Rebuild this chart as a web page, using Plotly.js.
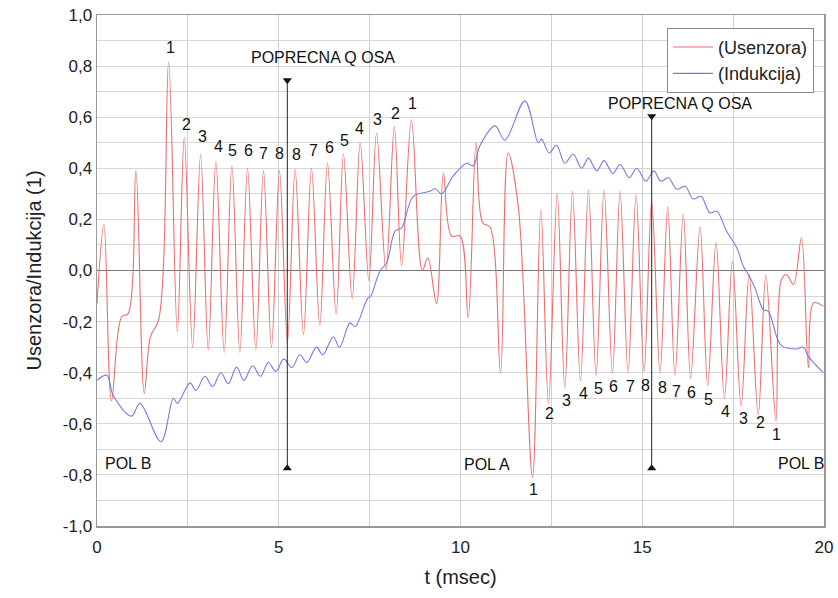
<!DOCTYPE html>
<html>
<head>
<meta charset="utf-8">
<script src="https://cdn.plot.ly/plotly-3.0.1.min.js"></script>
<style>html,body{margin:0;padding:0;background:#fff;}#chart{width:838px;height:598px;}</style>
</head>
<body>
<div id="chart"></div>
<script>
// ---- Usenzora (red) ----
const usenX = [0, 0.19, 0.40, 0.68, 0.85, 1.07, 1.30, 1.47, 1.70, 1.97, 2.21, 2.40, 2.63, 2.85, 3.06, 3.27, 3.50, 3.71, 3.93, 4.14, 4.37, 4.58, 4.80, 5.02, 5.24, 5.45, 5.68, 5.90, 6.13, 6.34, 6.58, 6.78, 7.02, 7.24, 7.48, 7.69, 7.95, 8.18, 8.38, 8.65, 8.95, 9.10, 9.34, 9.53, 9.75, 9.99, 10.21, 10.43, 10.61, 10.81, 11.10, 11.31, 11.59, 11.98, 12.21, 12.42, 12.66, 12.87, 13.08, 13.30, 13.52, 13.73, 13.95, 14.18, 14.39, 14.61, 14.83, 15.05, 15.26, 15.49, 15.70, 15.90, 16.13, 16.33, 16.59, 16.80, 17.03, 17.26, 17.48, 17.72, 17.94, 18.19, 18.40, 18.68, 18.83, 18.97, 19.16, 19.38, 19.57, 19.71, 19.98];
const usenY = [-0.13, 0.18, -0.51, -0.18, -0.17, 0.39, -0.48, -0.26, -0.19, 0.815, -0.24, 0.52, -0.30, 0.455, -0.31, 0.425, -0.32, 0.41, -0.32, 0.40, -0.31, 0.39, -0.30, 0.39, -0.28, 0.395, -0.25, 0.40, -0.215, 0.42, -0.17, 0.455, -0.11, 0.50, -0.04, 0.537, 0.0, 0.563, 0.02, 0.59, 0.0, 0.05, -0.13, 0.38, 0.135, 0.135, -0.185, 0.50, 0.187, 0.17, -0.40, 0.46, 0.25, -0.81, 0.24, -0.52, 0.30, -0.46, 0.31, -0.43, 0.314, -0.41, 0.314, -0.40, 0.31, -0.40, 0.295, -0.395, 0.27, -0.40, 0.25, -0.41, 0.22, -0.42, 0.17, -0.45, 0.11, -0.50, 0.037, -0.53, -0.016, -0.565, -0.02, -0.59, -0.035, -0.016, -0.055, 0.128, -0.38, -0.127, -0.14];

// ---- Indukcija (blue) ----
const indX = [0, 0.27, 0.45, 0.95, 1.18, 1.76, 2.10, 2.21, 2.56, 2.72, 2.97, 3.18, 3.41, 3.61, 3.84, 4.04, 4.28, 4.50, 4.71, 4.92, 5.14, 5.36, 5.58, 5.77, 6.04, 6.21, 6.50, 6.67, 6.96, 7.10, 7.44, 7.53, 7.79, 7.97, 8.20, 8.38, 8.70, 9.16, 9.30, 9.48, 9.80, 10.17, 10.35, 10.54, 10.95, 11.22, 11.77, 12.14, 12.23, 12.44, 12.64, 12.87, 13.10, 13.33, 13.52, 13.75, 13.95, 14.19, 14.39, 14.64, 14.85, 15.10, 15.32, 15.51, 15.72, 15.95, 16.18, 16.40, 16.62, 16.86, 17.05, 17.32, 17.60, 17.78, 17.92, 18.10, 18.33, 18.47, 18.70, 18.83, 19.25, 19.43, 19.57, 19.98];
const indY = [-0.43, -0.41, -0.49, -0.57, -0.52, -0.67, -0.50, -0.52, -0.44, -0.47, -0.414, -0.454, -0.40, -0.443, -0.378, -0.43, -0.373, -0.414, -0.36, -0.395, -0.346, -0.38, -0.33, -0.36, -0.30, -0.33, -0.26, -0.30, -0.205, -0.22, -0.11, -0.10, 0.0, 0.03, 0.154, 0.167, 0.29, 0.31, 0.32, 0.30, 0.37, 0.42, 0.41, 0.49, 0.566, 0.51, 0.664, 0.50, 0.514, 0.46, 0.49, 0.42, 0.455, 0.40, 0.44, 0.39, 0.43, 0.38, 0.415, 0.363, 0.40, 0.35, 0.39, 0.35, 0.363, 0.318, 0.33, 0.28, 0.29, 0.226, 0.232, 0.154, 0.089, 0.017, -0.016, -0.068, -0.153, -0.16, -0.26, -0.294, -0.307, -0.30, -0.336, -0.40];

// ---- numbered labels ----
const numText = ["1","2","3","4","5","6","7","8","8","7","6","5","4","3","2","1",
                 "1","2","3","4","5","6","7","8","8","7","6","5","4","3","2","1"];
const numX = [2.01, 2.47, 2.90, 3.34, 3.73, 4.16, 4.59, 5.03, 5.49, 5.95, 6.39, 6.82, 7.22, 7.71, 8.20, 8.69,
              12.02, 12.44, 12.92, 13.38, 13.79, 14.22, 14.68, 15.10, 15.56, 15.95, 16.36, 16.82, 17.28, 17.78, 18.24, 18.70];
const numY = [0.873, 0.573, 0.523, 0.487, 0.468, 0.468, 0.459, 0.459, 0.455, 0.468, 0.481, 0.507, 0.556, 0.592, 0.616, 0.655,
              -0.856, -0.561, -0.509, -0.480, -0.460, -0.454, -0.454, -0.451, -0.456, -0.473, -0.477, -0.506, -0.552, -0.578, -0.595, -0.643];

// ---- pole labels & axis markers ----
const poleText = ["POL B", "POL A", "POL B"];
const poleX = [0.86, 10.72, 19.39];
const poleY = [-0.757, -0.761, -0.754];
const osaText = ["POPRECNA Q OSA", "POPRECNA Q OSA"];
const osaLabelX = [6.22, 16.04];
const osaLabelY = [0.835, 0.655];
const osaX = [5.235, 15.26];
const osaTop = [0.745, 0.604];
const osaBottom = [-0.774, -0.774];

const xTicks = [0, 5, 10, 15, 20];
const yTicks = [-1, -0.8, -0.6, -0.4, -0.2, 0, 0.2, 0.4, 0.6, 0.8, 1];
const yTickText = ["-1,0", "-0,8", "-0,6", "-0,4", "-0,2", "0,0", "0,2", "0,4", "0,6", "0,8", "1,0"];

const traces = [
  {x: usenX, y: usenY, name: '(Usenzora)', mode: 'lines', type: 'scatter',
   line: {color: 'rgb(238,110,110)', width: 1.1, shape: 'spline', smoothing: 1}, hoverinfo: 'skip'},
  {x: indX, y: indY, name: '(Indukcija)', mode: 'lines', type: 'scatter',
   line: {color: 'rgb(125,120,225)', width: 1.1, shape: 'spline', smoothing: 1}, hoverinfo: 'skip'},
  {x: osaX.concat(osaX), y: osaTop.concat(osaBottom), mode: 'markers', type: 'scatter', showlegend: false,
   marker: {symbol: ['triangle-down','triangle-down','triangle-up','triangle-up'], size: 8, color: '#111'}, hoverinfo: 'skip'}
];

const txtFont = {family: 'Liberation Sans, Arial, sans-serif', size: 16, color: '#111'};
const annotations = [];
numText.forEach((t, i) => annotations.push({x: numX[i], y: numY[i], text: t, showarrow: false, font: txtFont}));
poleText.forEach((t, i) => annotations.push({x: poleX[i], y: poleY[i], text: t, showarrow: false, font: txtFont}));
osaText.forEach((t, i) => annotations.push({x: osaLabelX[i], y: osaLabelY[i], text: t, showarrow: false, font: txtFont}));

const shapes = osaX.map((x, i) => ({type: 'line', xref: 'x', yref: 'y', x0: x, x1: x, y0: osaBottom[i], y1: osaTop[i],
  line: {color: '#222', width: 1}}));

const layout = {
  width: 838, height: 598,
  margin: {l: 97, r: 14, t: 15, b: 72},
  paper_bgcolor: '#fff', plot_bgcolor: '#fff',
  separators: ',.',
  font: {family: 'Liberation Sans, Arial, sans-serif', size: 15, color: '#222'},
  xaxis: {
    range: [0, 20], tickvals: xTicks, ticks: '', showgrid: true, gridcolor: '#cfcfcf', gridwidth: 1,
    minor: {dtick: 2.5, showgrid: true, gridcolor: '#cfcfcf', gridwidth: 1},
    showline: true, mirror: true, linecolor: '#999', linewidth: 1.5, zeroline: false,
    ticklabelstandoff: 5,
    tickfont: {size: 17}, title: {text: 't (msec)', font: {size: 20}, standoff: 14}
  },
  yaxis: {
    range: [-1, 1], tickvals: yTicks, ticktext: yTickText, ticks: '', showgrid: true, gridcolor: '#d6d6d6', gridwidth: 1,
    minor: {dtick: 0.1, showgrid: true, gridcolor: '#d6d6d6', gridwidth: 1},
    showline: true, mirror: true, linecolor: '#999', linewidth: 1.5,
    zeroline: true, zerolinecolor: '#777', zerolinewidth: 1,
    tickfont: {size: 17}, title: {text: 'Usenzora/Indukcija (1)', font: {size: 20}, standoff: 16}
  },
  legend: {x: 0.784, y: 0.975, xanchor: 'left', yanchor: 'top', bgcolor: '#fff', bordercolor: '#888', borderwidth: 1,
    font: {size: 18, color: '#222'}, tracegroupgap: 0, itemwidth: 40},
  annotations: annotations,
  shapes: shapes,
  showlegend: true
};

Plotly.newPlot('chart', traces, layout, {displayModeBar: false, staticPlot: true});
</script>
</body>
</html>
